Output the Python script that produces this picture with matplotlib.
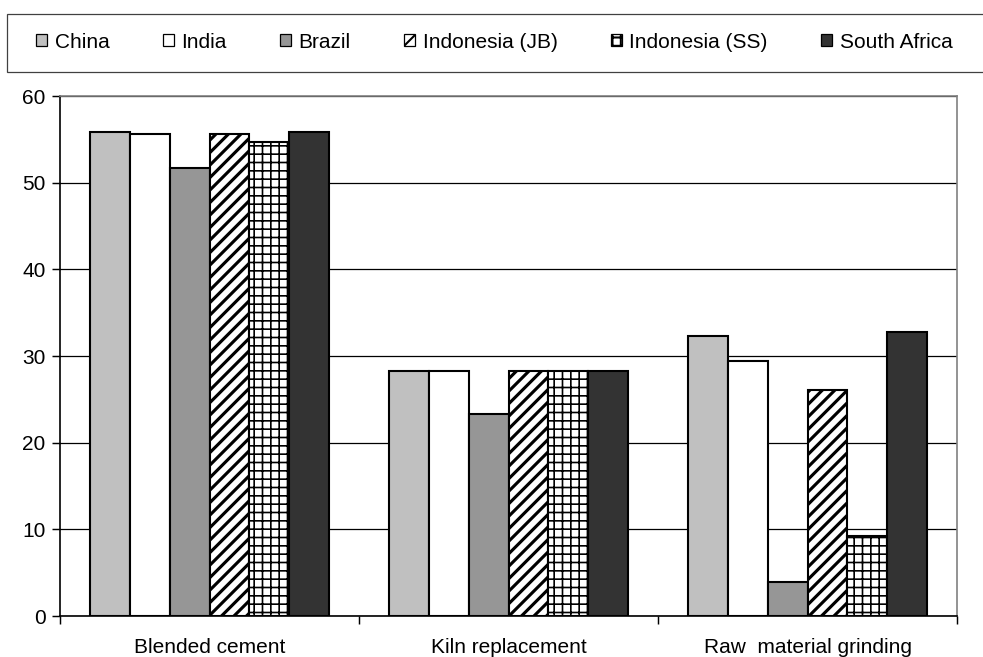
import matplotlib.pyplot as plt
import numpy as np
from matplotlib.patches import Rectangle, Patch

plt.rcParams['font.family'] = ['Liberation Sans', 'DejaVu Sans']

# Data
categories = ["Blended cement", "Kiln replacement", "Raw  material grinding"]
countries = ["China", "India", "Brazil", "Indonesia (JB)", "Indonesia (SS)", "South Africa"]
china = [55.8, 28.3, 32.3]
india = [55.6, 28.3, 29.4]
brazil = [51.7, 23.3, 3.9]
indonesia_jb = [55.6, 28.3, 26.1]
indonesia_ss = [54.7, 28.3, 9.2]
south_africa = [55.8, 28.3, 32.8]
series = [china, india, brazil, indonesia_jb, indonesia_ss, south_africa]

# Styles
faces = ["#c0c0c0", "#ffffff", "#969696", "#ffffff", "#ffffff", "#333333"]
hatches = [None, None, None, "////", "+++", None]
hatch_lw = [1.0, 1.0, 1.0, 1.5, 0.8, 1.0]

fig = plt.figure(figsize=(983 / 150, 657 / 150), dpi=150)
ax = fig.add_axes([60 / 983, 41 / 657, 897 / 983, 520 / 657])

x = np.arange(len(categories))
n = len(series)
w = 0.8 / n
for i, vals in enumerate(series):
    bars = ax.bar(x - 0.4 + w * (i + 0.5), vals, width=w, color=faces[i],
                  edgecolor="black", linewidth=1.0, hatch=hatches[i], zorder=3)
    for b in bars:
        if hasattr(b, "set_hatch_linewidth"):
            b.set_hatch_linewidth(hatch_lw[i])

ax.set_xlim(-0.5, 2.5)
ax.set_ylim(0, 60)
ax.set_yticks(np.arange(0, 61, 10))
ax.yaxis.grid(True, color="black", linewidth=0.6, zorder=0)
ax.set_axisbelow(True)

ax.set_xticks(np.arange(-0.5, 2.6, 1.0))
ax.set_xticklabels([])
ax.set_xticks(x, minor=True)
ax.set_xticklabels(categories, minor=True)
ax.tick_params(axis="x", which="minor", length=0, pad=10.5, labelsize=10)
ax.tick_params(axis="x", which="major", length=4, width=0.7, direction="out")
ax.tick_params(axis="y", length=4, width=0.7, labelsize=10, pad=3)

for s in ["top", "right"]:
    ax.spines[s].set_color("#808080")
    ax.spines[s].set_linewidth(0.8)
for s in ["left", "bottom"]:
    ax.spines[s].set_color("black")
    ax.spines[s].set_linewidth(0.8)

# Legend box
fig.add_artist(Rectangle((7 / 983, (657 - 72) / 657), 1.0, 58 / 657,
                         transform=fig.transFigure, facecolor="white",
                         edgecolor="#404040", linewidth=0.6))
handles = [Patch(facecolor=faces[i], edgecolor="black", linewidth=0.6,
                 hatch=hatches[i], label=countries[i]) for i in range(n)]
fig.legend(handles=handles, loc="center left", ncol=6, frameon=False,
           bbox_to_anchor=(36 / 983, (657 - 42) / 657), fontsize=10,
           handlelength=0.55, handleheight=0.55, handletextpad=0.35,
           columnspacing=2.55, borderpad=0, borderaxespad=0)

fig.savefig("out.png", dpi=150)
